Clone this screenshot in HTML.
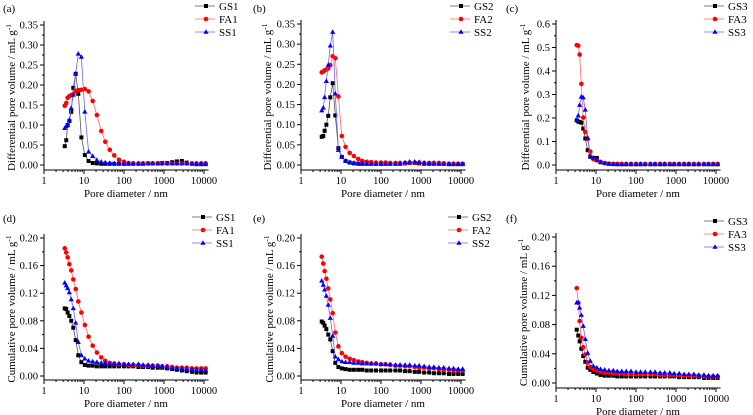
<!DOCTYPE html>
<html><head><meta charset="utf-8"><style>
html,body{margin:0;padding:0;background:#fff;}
svg{display:block;font-family:"Liberation Serif",serif;}
</style></head><body>
<svg id="chart" width="753" height="415" viewBox="0 0 753 415" xmlns="http://www.w3.org/2000/svg"></svg>
<script>
const X = [3.3,3.6,3.9,4.3,4.8,5.4,6.2,7.2,8.6,10.5,13,16.5,21,27,34,44,57,75,100,130,170,230,300,400,520,700,900,1200,1600,2100,2800,3700,5000,6500,8500,11000];
const xTickLabels = ["1","10","100","1000","10000"];

const GS1d=[0.047,0.062,0.1,0.11,0.133,0.193,0.228,0.178,0.069,0.025,0.01,0.005,0.004,0.003,0.003,0.003,0.003,0.003,0.003,0.003,0.003,0.003,0.003,0.004,0.004,0.004,0.005,0.005,0.007,0.009,0.01,0.006,0.003,0.002,0.002,0.002];
const FA1d=[0.148,0.155,0.168,0.172,0.175,0.177,0.185,0.187,0.188,0.19,0.184,0.16,0.125,0.085,0.058,0.038,0.024,0.013,0.008,0.005,0.004,0.004,0.004,0.004,0.004,0.004,0.004,0.004,0.004,0.004,0.004,0.004,0.004,0.004,0.004,0.004];
const SS1d=[0.092,0.097,0.1,0.113,0.142,0.175,0.228,0.278,0.27,0.133,0.033,0.022,0.012,0.008,0.006,0.005,0.004,0.004,0.004,0.004,0.004,0.004,0.004,0.004,0.004,0.004,0.004,0.004,0.004,0.004,0.004,0.004,0.004,0.004,0.004,0.004];
const GS2d=[0.07,0.072,0.085,0.1,0.122,0.168,0.203,0.123,0.042,0.02,0.01,0.006,0.004,0.003,0.003,0.003,0.003,0.003,0.003,0.003,0.003,0.003,0.003,0.004,0.005,0.005,0.004,0.003,0.003,0.003,0.003,0.003,0.002,0.002,0.002,0.002];
const FA2d=[0.23,0.232,0.235,0.237,0.24,0.248,0.27,0.265,0.17,0.072,0.045,0.03,0.022,0.015,0.01,0.008,0.007,0.006,0.006,0.006,0.005,0.005,0.005,0.005,0.006,0.006,0.006,0.005,0.005,0.005,0.005,0.004,0.003,0.003,0.003,0.003];
const SS2d=[0.135,0.142,0.168,0.208,0.248,0.296,0.33,0.177,0.037,0.02,0.01,0.007,0.005,0.004,0.003,0.003,0.003,0.003,0.003,0.003,0.003,0.003,0.004,0.006,0.008,0.008,0.007,0.005,0.004,0.004,0.003,0.003,0.003,0.003,0.003,0.003];
const GS3d=[0.19,0.185,0.183,0.18,0.155,0.113,0.063,0.035,0.03,0.03,0.012,0.008,0.005,0.004,0.003,0.003,0.003,0.003,0.003,0.003,0.003,0.003,0.003,0.003,0.003,0.003,0.003,0.003,0.003,0.003,0.003,0.003,0.003,0.003,0.003,0.003];
const FA3d=[0.51,0.508,0.47,0.345,0.202,0.14,0.11,0.057,0.025,0.02,0.013,0.008,0.005,0.004,0.004,0.004,0.004,0.004,0.004,0.004,0.004,0.004,0.004,0.004,0.004,0.004,0.004,0.004,0.004,0.004,0.004,0.004,0.004,0.004,0.004,0.004];
const SS3d=[0.19,0.21,0.255,0.29,0.287,0.235,0.115,0.038,0.03,0.02,0.012,0.008,0.005,0.004,0.004,0.004,0.004,0.004,0.004,0.004,0.004,0.004,0.004,0.004,0.004,0.004,0.004,0.004,0.004,0.004,0.004,0.004,0.004,0.004,0.004,0.004];

const GS1c=[0.098,0.097,0.092,0.087,0.08,0.07,0.052,0.03,0.02,0.016,0.015,0.015,0.014,0.014,0.014,0.014,0.014,0.014,0.014,0.014,0.014,0.013,0.013,0.013,0.012,0.012,0.012,0.011,0.01,0.009,0.008,0.007,0.006,0.005,0.005,0.005];
const FA1c=[0.185,0.179,0.172,0.162,0.153,0.14,0.126,0.108,0.092,0.074,0.057,0.044,0.034,0.027,0.022,0.019,0.018,0.017,0.017,0.016,0.016,0.016,0.015,0.015,0.015,0.015,0.014,0.014,0.013,0.012,0.012,0.012,0.011,0.011,0.011,0.011];
const SS1c=[0.135,0.131,0.127,0.121,0.111,0.098,0.077,0.049,0.03,0.025,0.022,0.021,0.02,0.019,0.019,0.018,0.018,0.018,0.017,0.017,0.017,0.017,0.016,0.016,0.015,0.015,0.014,0.013,0.012,0.011,0.011,0.01,0.01,0.009,0.009,0.009];
const GS2c=[0.079,0.077,0.073,0.068,0.06,0.053,0.036,0.019,0.013,0.011,0.01,0.009,0.009,0.009,0.009,0.008,0.008,0.008,0.008,0.008,0.008,0.008,0.008,0.007,0.007,0.006,0.006,0.005,0.005,0.004,0.004,0.004,0.003,0.003,0.003,0.003];
const FA2c=[0.173,0.163,0.152,0.141,0.127,0.111,0.091,0.063,0.043,0.033,0.028,0.025,0.023,0.021,0.02,0.019,0.018,0.018,0.017,0.017,0.016,0.015,0.015,0.014,0.014,0.013,0.012,0.012,0.011,0.011,0.01,0.009,0.009,0.008,0.008,0.008];
const SS2c=[0.138,0.132,0.125,0.116,0.103,0.084,0.058,0.028,0.024,0.021,0.02,0.02,0.019,0.019,0.018,0.018,0.018,0.018,0.017,0.017,0.017,0.016,0.016,0.016,0.016,0.015,0.015,0.014,0.013,0.013,0.012,0.012,0.011,0.011,0.01,0.01];
const GS3c=[0.073,0.065,0.057,0.047,0.037,0.029,0.021,0.018,0.015,0.013,0.011,0.01,0.01,0.01,0.009,0.009,0.009,0.009,0.009,0.009,0.009,0.009,0.009,0.009,0.009,0.009,0.009,0.008,0.008,0.008,0.008,0.008,0.007,0.007,0.007,0.007];
const FA3c=[0.13,0.11,0.085,0.062,0.049,0.039,0.028,0.022,0.019,0.017,0.015,0.014,0.014,0.013,0.013,0.013,0.012,0.012,0.012,0.012,0.012,0.012,0.012,0.011,0.011,0.011,0.011,0.011,0.01,0.01,0.01,0.01,0.009,0.009,0.009,0.009];
const SS3c=[0.11,0.11,0.103,0.093,0.078,0.06,0.041,0.03,0.023,0.021,0.019,0.018,0.017,0.017,0.016,0.016,0.016,0.016,0.015,0.015,0.015,0.015,0.015,0.014,0.014,0.014,0.013,0.013,0.012,0.012,0.012,0.011,0.011,0.01,0.01,0.01];

const yTicksTop = ["0.00","0.05","0.10","0.15","0.20","0.25","0.30","0.35"];
const yTicksC = ["0.0","0.1","0.2","0.3","0.4","0.5","0.6"];
const yTicksBot = ["0.00","0.04","0.08","0.12","0.16","0.20"];

const NS="http://www.w3.org/2000/svg";
const svg=document.getElementById('chart');
function mk(tag,attrs,parent){const e=document.createElementNS(NS,tag);for(const k in attrs)e.setAttribute(k,attrs[k]);(parent||svg).appendChild(e);return e;}

const COLORS={GS:"#000000",FA:"#ff0000",SS:"#0000ff"};
const LINE={GS:"#555555",FA:"#ff6666",SS:"#6666ff"};

function marker(kind,x,y,g){
  let m;
  if(kind==="GS"){m=mk('rect',{x:x-2,y:y-2,width:4,height:4,fill:COLORS.GS},g);}
  else if(kind==="FA"){m=mk('circle',{cx:x,cy:y,r:2.3,fill:COLORS.FA},g);}
  else {m=mk('polygon',{points:`${x},${y-2.8} ${x+2.6},${y+1.8} ${x-2.6},${y+1.8}`,fill:COLORS.SS},g);}
  
  
}

function panel(p){
  const g=mk('g',{});
  
  
  const xs=v=>p.px0+40*Math.log10(v);
  const ys=v=>p.y0-(v/p.ymax)*(p.y0-p.ytop);
  const xEnd=xs(13000);
  // axes
  const ax=mk('path',{d:`M${p.px0},${p.ytop-4} L${p.px0},${p.axisY} L${xEnd},${p.axisY}`,stroke:'#000',fill:'none','stroke-width':1},g);
  
  
  // x ticks
  xTickLabels.forEach((lab,i)=>{
    const x=p.px0+40*i;
    mk('line',{x1:x,y1:p.axisY,x2:x,y2:p.axisY+4,stroke:'#000'},g);
    const t=mk('text',{x:x,y:p.axisY+14,'text-anchor':'middle','font-size':10.5,fill:'#000'},g);
    t.textContent=lab;
    
    
    if(i<4){for(let k=2;k<10;k++){const xm=x+40*Math.log10(k);mk('line',{x1:xm,y1:p.axisY,x2:xm,y2:p.axisY+2,stroke:'#000'},g);}}
  });
  // y ticks
  const n=p.yt.length;
  p.yt.forEach((lab,i)=>{
    const v=p.ymax*i/(n-1);
    const y=ys(v);
    mk('line',{x1:p.px0-4,y1:y,x2:p.px0,y2:y,stroke:'#000'},g);
    if(i<n-1){const y2=ys(v+p.ymax/(n-1)/2);mk('line',{x1:p.px0-2,y1:y2,x2:p.px0,y2:y2,stroke:'#000'},g);}
    const t=mk('text',{x:p.px0-6,y:y+3.5,'text-anchor':'end','font-size':10.5,fill:'#000'},g);
    t.textContent=lab;
    
    
  });
  // titles
  const xt=mk('text',{x:p.px0+82,y:p.axisY+27,'text-anchor':'middle','font-size':11,fill:'#000'},g);
  xt.textContent='Pore diameter / nm';
  
  
  const yt=mk('text',{transform:`translate(${p.ytx},${(p.ytop+p.axisY)/2}) rotate(-90)`,'text-anchor':'middle','font-size':11,fill:'#000'},g);
  yt.innerHTML=p.ytitle+' / mL g<tspan dy="-4" font-size="7.5">-1</tspan>';
  
  
  const pl=mk('text',{x:p.lx,y:p.ly,'font-size':11,fill:'#000'},g);
  pl.textContent='('+p.id+')';
  
  
  // series
  p.series.forEach((s,si)=>{
    const sg=mk('g',{},g);
    
    
    const pts=s.data.map((v,i)=>xs(X[i]).toFixed(1)+','+ys(v).toFixed(1)).join(' ');
    const pl2=mk('polyline',{points:pts,fill:'none',stroke:LINE[s.kind],'stroke-width':0.8},sg);
    
    
    s.data.forEach((v,i)=>marker(s.kind,xs(X[i]),ys(v),sg));
    // legend
    const lg=mk('g',{},g);
    
    
    const ly=p.legY+13*si;
    mk('line',{x1:p.legX,y1:ly,x2:p.legX+20,y2:ly,stroke:LINE[s.kind],'stroke-width':0.8},lg);
    marker(s.kind,p.legX+11,ly,lg);
    const lt=mk('text',{x:p.legX+24,y:ly+4,'font-size':11,fill:'#000'},lg);
    lt.textContent=s.name;
  });
}

const panels=[
 {id:'a',px0:44,ytop:25,y0:165,axisY:170,ymax:0.35,yt:yTicksTop,ytx:15,ytitle:'Differential pore volume',lx:3,ly:12,legX:195,legY:6,
  series:[{name:'GS1',kind:'GS',data:GS1d},{name:'FA1',kind:'FA',data:FA1d},{name:'SS1',kind:'SS',data:SS1d}]},
 {id:'b',px0:301,ytop:24,y0:165,axisY:170,ymax:0.35,yt:yTicksTop,ytx:271,ytitle:'Differential pore volume',lx:253,ly:12,legX:450,legY:6,
  series:[{name:'GS2',kind:'GS',data:GS2d},{name:'FA2',kind:'FA',data:FA2d},{name:'SS2',kind:'SS',data:SS2d}]},
 {id:'c',px0:556,ytop:24,y0:165,axisY:170,ymax:0.6,yt:yTicksC,ytx:529,ytitle:'Differential pore volume',lx:506,ly:12,legX:704,legY:6,
  series:[{name:'GS3',kind:'GS',data:GS3d},{name:'FA3',kind:'FA',data:FA3d},{name:'SS3',kind:'SS',data:SS3d}]},
 {id:'d',px0:44,ytop:238,y0:376,axisY:380,ymax:0.2,yt:yTicksBot,ytx:15,ytitle:'Cumulative pore volume',lx:3,ly:222,legX:192,legY:217,
  series:[{name:'GS1',kind:'GS',data:GS1c},{name:'FA1',kind:'FA',data:FA1c},{name:'SS1',kind:'SS',data:SS1c}]},
 {id:'e',px0:301,ytop:238,y0:376,axisY:380,ymax:0.2,yt:yTicksBot,ytx:273,ytitle:'Cumulative pore volume',lx:253,ly:222,legX:448,legY:217,
  series:[{name:'GS2',kind:'GS',data:GS2c},{name:'FA2',kind:'FA',data:FA2c},{name:'SS2',kind:'SS',data:SS2c}]},
 {id:'f',px0:556,ytop:237,y0:383,axisY:388,ymax:0.2,yt:yTicksBot,ytx:527,ytitle:'Cumulative pore volume',lx:506,ly:222,legX:704,legY:221,
  series:[{name:'GS3',kind:'GS',data:GS3c},{name:'FA3',kind:'FA',data:FA3c},{name:'SS3',kind:'SS',data:SS3c}]}
];
panels.forEach(panel);
</script>
</body></html>
